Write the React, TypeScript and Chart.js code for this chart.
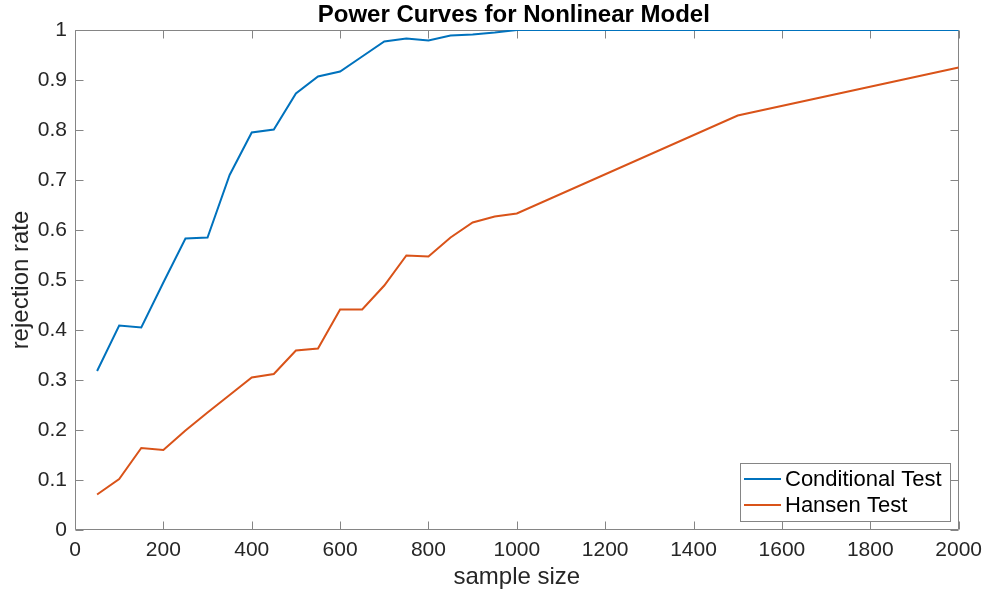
import React, { useEffect, useRef } from "react";
import { Chart, registerables } from "chart.js";

Chart.register(...registerables);

const TITLE = "Power Curves for Nonlinear Model";
const X_LABEL = "sample size";
const Y_LABEL = "rejection rate";
const SERIES_NAMES = ["Conditional Test", "Hansen Test"];
const SERIES_COLORS = ["#0072BD", "#D95319"];

const sampleSizes = [50, 100, 150, 200, 250, 300, 350, 400, 450, 500, 550, 600, 650, 700, 750, 800, 850, 900, 950, 1000, 1500, 2000];
const conditional = [0.318, 0.409, 0.405, 0.495, 0.583, 0.585, 0.71, 0.795, 0.801, 0.873, 0.907, 0.917, 0.947, 0.977, 0.983, 0.979, 0.989, 0.991, 0.995, 1.0, 1.0, 1.0];
const hansen = [0.071, 0.102, 0.164, 0.16, 0.199, 0.235, 0.27, 0.305, 0.312, 0.359, 0.363, 0.441, 0.441, 0.489, 0.549, 0.547, 0.585, 0.615, 0.627, 0.633, 0.829, 0.925];

const FONT = "'Liberation Sans', Arial, Helvetica, sans-serif";
const AXIS_COLOR = "#858585";
const TEXT_COLOR = "#262626";

const matlabPlugin = {
  id: "matlabPlugin",
  beforeDatasetsDraw(chart: any) {
    const { ctx, chartArea, scales } = chart;
    const { left, right, top, bottom } = chartArea;
    const xs = scales.x;
    const ys = scales.y;
    ctx.save();
    ctx.strokeStyle = AXIS_COLOR;
    ctx.lineWidth = 1;
    ctx.beginPath();
    const L = Math.round(left) + 0.5;
    const R = Math.round(right) - 0.5;
    const T = Math.round(top) + 0.5;
    const B = Math.round(bottom) - 0.5;
    ctx.rect(L, T, R - L, B - T);
    const tl = 8;
    xs.ticks.forEach((t: any) => {
      const px = Math.round(xs.getPixelForValue(t.value)) + 0.5;
      ctx.moveTo(px, B);
      ctx.lineTo(px, B - tl);
      ctx.moveTo(px, T);
      ctx.lineTo(px, T + tl);
    });
    ys.ticks.forEach((t: any) => {
      const py = Math.round(ys.getPixelForValue(t.value)) + 0.5;
      ctx.moveTo(L, py);
      ctx.lineTo(L + tl, py);
      ctx.moveTo(R, py);
      ctx.lineTo(R - tl, py);
    });
    ctx.stroke();
    ctx.restore();
  },
  afterDatasetsDraw(chart: any) {
    const { ctx, chartArea } = chart;
    const { left, right, bottom } = chartArea;
    ctx.save();
    // title
    ctx.fillStyle = "#000000";
    ctx.font = `bold 24px ${FONT}`;
    ctx.textAlign = "center";
    ctx.textBaseline = "alphabetic";
    ctx.fillText(TITLE, (left + right) / 2 - 3, 22);

    // legend
    const bw = 210;
    const bh = 58;
    const bx = Math.round(right) - 9 - bw;
    const by = Math.round(bottom) - 9 - bh;
    ctx.fillStyle = "#ffffff";
    ctx.fillRect(bx, by, bw, bh);
    ctx.strokeStyle = AXIS_COLOR;
    ctx.lineWidth = 1;
    ctx.strokeRect(bx + 0.5, by + 0.5, bw, bh);
    ctx.font = `22px ${FONT}`;
    ctx.textAlign = "left";
    ctx.textBaseline = "middle";
    chart.data.datasets.forEach((ds: any, i: number) => {
      const ry = by + 16 + i * 26;
      ctx.strokeStyle = ds.borderColor;
      ctx.lineWidth = 2;
      ctx.beginPath();
      ctx.moveTo(bx + 4, ry);
      ctx.lineTo(bx + 41, ry);
      ctx.stroke();
      ctx.fillStyle = "#000000";
      ctx.fillText(ds.label, bx + 45, ry + 1);
    });
    ctx.restore();
  },
};

export default function App() {
  const ref = useRef<HTMLCanvasElement>(null);

  useEffect(() => {
    if (!ref.current) return;
    const chart = new Chart(ref.current, {
      type: "line",
      data: {
        datasets: [
          {
            label: SERIES_NAMES[0],
            data: sampleSizes.map((x, i) => ({ x, y: conditional[i] })),
            borderColor: SERIES_COLORS[0],
            backgroundColor: SERIES_COLORS[0],
            borderWidth: 2,
            pointRadius: 0,
            tension: 0,
          },
          {
            label: SERIES_NAMES[1],
            data: sampleSizes.map((x, i) => ({ x, y: hansen[i] })),
            borderColor: SERIES_COLORS[1],
            backgroundColor: SERIES_COLORS[1],
            borderWidth: 2,
            pointRadius: 0,
            tension: 0,
          },
        ],
      },
      plugins: [matlabPlugin],
      options: {
        animation: false,
        responsive: false,
        devicePixelRatio: 1,
        layout: { padding: { top: 30, right: 30, left: 0, bottom: 0 } },
        plugins: {
          legend: { display: false },
          title: { display: false },
          tooltip: { enabled: false },
        },
        scales: {
          x: {
            type: "linear",
            min: 0,
            max: 2000,
            grid: { display: false, drawTicks: false },
            border: { display: false },
            ticks: {
              stepSize: 200,
              padding: 8,
              color: TEXT_COLOR,
              font: { family: FONT, size: 21 },
              maxRotation: 0,
              autoSkip: false,
              callback: (v: any) => String(v),
            },
            title: {
              display: true,
              text: X_LABEL,
              color: TEXT_COLOR,
              font: { family: FONT, size: 24 },
              padding: { top: 0, bottom: 4 },
            },
            afterFit: (s: any) => {
              s.height = 66;
            },
          },
          y: {
            type: "linear",
            min: 0,
            max: 1,
            grid: { display: false, drawTicks: false },
            border: { display: false },
            ticks: {
              stepSize: 0.1,
              padding: 8,
              color: TEXT_COLOR,
              font: { family: FONT, size: 21 },
              autoSkip: false,
              callback: (v: any) => String(Number(Number(v).toFixed(1))),
            },
            title: {
              display: true,
              text: Y_LABEL,
              color: TEXT_COLOR,
              font: { family: FONT, size: 24 },
              padding: { top: 7, bottom: 0 },
            },
            afterFit: (s: any) => {
              s.width = 75;
            },
          },
        },
      },
    });
    return () => chart.destroy();
  }, []);

  return (
    <div style={{ position: "fixed", left: 0, top: 0, width: 990, height: 596, background: "#ffffff" }}>
      <canvas ref={ref} width={990} height={596} />
    </div>
  );
}
